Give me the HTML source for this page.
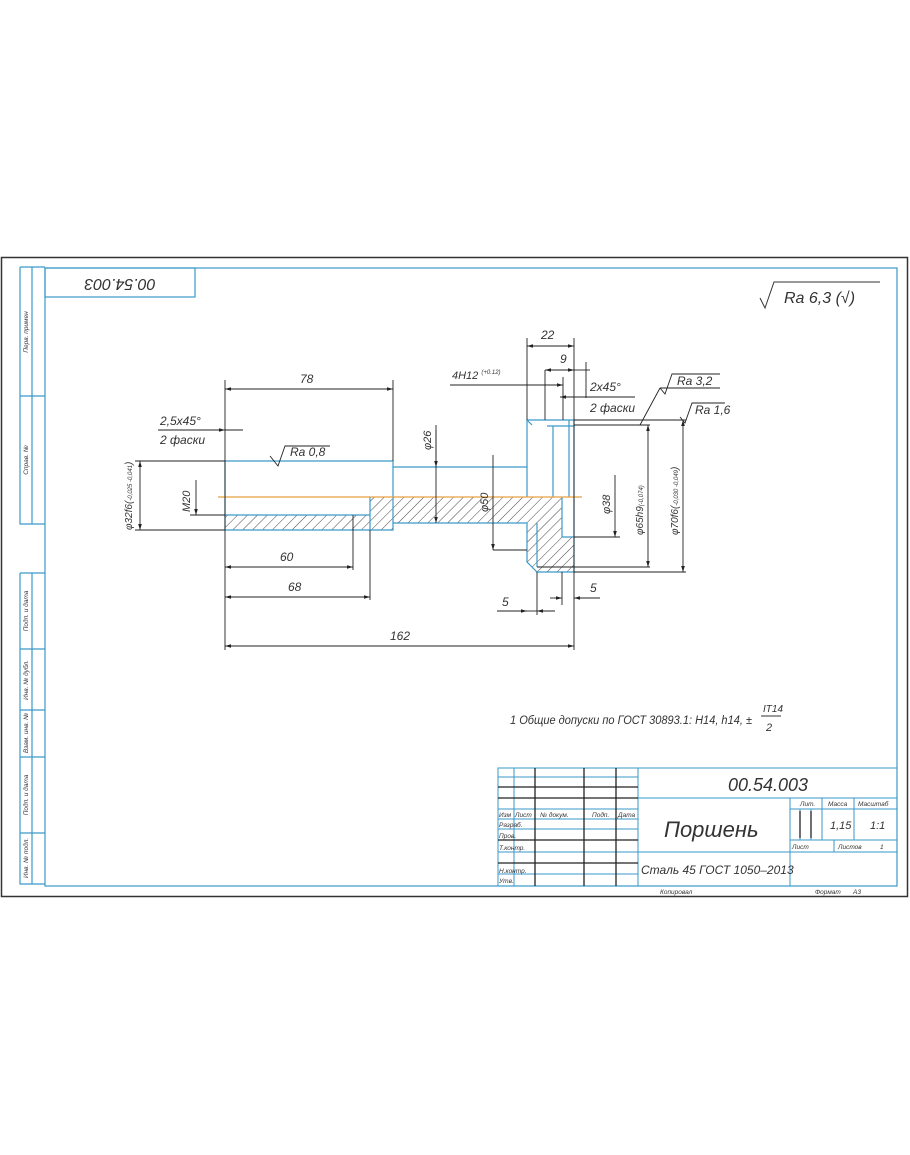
<!DOCTYPE html>
<html><head><meta charset="utf-8"><style>
html,body{margin:0;padding:0;background:#fff;}
svg{display:block}
text{font-family:"Liberation Sans","DejaVu Sans",sans-serif;font-style:italic;fill:#333;}
</style></head><body>
<svg width="910" height="1155" viewBox="0 0 910 1155" xmlns="http://www.w3.org/2000/svg">
<defs>
<marker id="a" viewBox="0 0 10 6" refX="10" refY="3" markerWidth="8" markerHeight="4" orient="auto-start-reverse"><path d="M0,0L10,3L0,6z" fill="#222"/></marker>
<pattern id="h" width="7" height="7" patternUnits="userSpaceOnUse" patternTransform="rotate(45)"><line x1="0" y1="0" x2="0" y2="7" stroke="#333" stroke-width="0.9"/></pattern>
</defs>
<rect x="1.5" y="257.5" width="906" height="639" fill="none" stroke="#333" stroke-width="1.5"/>
<g stroke="#3a9ac9" fill="none" stroke-width="1.2">
<rect x="45" y="268" width="852" height="618"/>
<rect x="45" y="268" width="150" height="29"/>
<path d="M20,267V524H45M32,267V524M20,267H45M20,396H45"/>
<path d="M20,573V884H45M32,573V884M20,573H45M20,649H45M20,710H45M20,757H45M20,833H45"/>
</g>
<text transform="translate(120,283) rotate(180)" font-size="16" text-anchor="middle" dominant-baseline="middle">00.54.003</text>
<g font-size="6.5">
<text transform="translate(28,332) rotate(-90)" text-anchor="middle">Перв. примен</text>
<text transform="translate(28,460) rotate(-90)" text-anchor="middle">Справ. №</text>
<text transform="translate(28,611) rotate(-90)" text-anchor="middle">Подп. и дата</text>
<text transform="translate(28,680) rotate(-90)" text-anchor="middle">Инв. № дубл.</text>
<text transform="translate(28,733) rotate(-90)" text-anchor="middle">Взам. инв. №</text>
<text transform="translate(28,795) rotate(-90)" text-anchor="middle">Подп. и дата</text>
<text transform="translate(28,858) rotate(-90)" text-anchor="middle">Инв. № подл.</text>
</g>
<path d="M760,298l5,10l9,-26H880" stroke="#333" fill="none"/>
<text x="784" y="303" font-size="16">Ra 6,3 (√)</text>
<path d="M225,515H370V497H393V530H225Z M393,497H562V537H574V572H537L527,562V523H393Z" fill="url(#h)"/>
<g stroke="#3a9ac9" fill="none" stroke-width="1.2">
<path d="M225,461H393V467H527V420H574V572H537L527,562V523H393V530H225Z"/>
<path d="M225,515H370M393,467V523M370,497V530M527,467V497M553,426V497M569,420V497M547,426H574M537,523V567M562,497V537H574M527,420L532,425"/>
</g>
<line x1="218" y1="497" x2="582" y2="497" stroke="#e8a040" stroke-width="1.2"/>
<g stroke="#222" stroke-width="0.9" fill="none">
<path d="M225,380V650M393,380V461M370,530V600M353,515V570M574,338V650M527,338V420M545,370V420M586,362V398M563,377V420"/>
<path d="M225,389H393" marker-start="url(#a)" marker-end="url(#a)"/>
<path d="M225,567H353" marker-start="url(#a)" marker-end="url(#a)"/>
<path d="M225,597H370" marker-start="url(#a)" marker-end="url(#a)"/>
<path d="M225,646H574" marker-start="url(#a)" marker-end="url(#a)"/>
<path d="M527,346H574" marker-start="url(#a)" marker-end="url(#a)"/>
<path d="M545,370H574" marker-start="url(#a)" marker-end="url(#a)"/><path d="M574,370H590"/>
<path d="M450,385H563" marker-end="url(#a)"/>
<path d="M560,397H635"/><path d="M586,397H560" marker-end="url(#a)"/>
<path d="M158,430H243"/><path d="M200,430H225" marker-end="url(#a)"/>
<path d="M135,461H225M135,530H225"/>
<path d="M140,461V530" marker-start="url(#a)" marker-end="url(#a)"/>
<path d="M196,480V515" marker-end="url(#a)"/><path d="M190,515H225"/>
<path d="M436,425V523" marker-end="url(#a)"/><path d="M436,430V467" marker-end="url(#a)"/>
<path d="M493,455V550" marker-end="url(#a)"/><path d="M493,550H527"/>
<path d="M615,475V537" marker-end="url(#a)"/><path d="M574,537H620"/>
<path d="M574,425H650M537,567H650M574,420H686M574,572H686"/>
<path d="M648,425V567" marker-start="url(#a)" marker-end="url(#a)"/>
<path d="M683,420V572" marker-start="url(#a)" marker-end="url(#a)"/>
<path d="M537,572V615M562,572V605"/>
<path d="M497,611H527" marker-end="url(#a)"/><path d="M537,611H555" marker-start="url(#a)"/><path d="M527,611H537"/>
<path d="M550,598H562" marker-end="url(#a)"/><path d="M574,598H600" marker-start="url(#a)"/>
<path d="M270,456l8,10l7,-20H330"/>
<path d="M660,388l5,6l7,-20H720M660,388H720M660,388L640,425" />
<path d="M680,417l5,6l7,-20H725"/>
</g>
<g font-size="12">
<text x="300" y="383">78</text>
<text x="280" y="561">60</text>
<text x="288" y="591">68</text>
<text x="390" y="640">162</text>
<text x="541" y="339">22</text>
<text x="560" y="363">9</text>
<text x="452" y="379" font-size="11">4H12 <tspan font-size="6" dy="-5">(+0.12)</tspan></text>
<text x="590" y="391">2x45°</text>
<text x="590" y="412">2 фаски</text>
<text x="160" y="425">2,5x45°</text>
<text x="160" y="444">2 фаски</text>
<text x="290" y="456">Ra 0,8</text>
<text x="677" y="385">Ra 3,2</text>
<text x="695" y="414">Ra 1,6</text>
<text x="502" y="606">5</text>
<text x="590" y="592">5</text>
<text transform="translate(132,530) rotate(-90)" font-size="10">φ32f6(<tspan font-size="6">-0,025 -0,041</tspan>)</text>
<text transform="translate(190,512) rotate(-90)" font-size="11">M20</text>
<text transform="translate(431,450) rotate(-90)" font-size="11">φ26</text>
<text transform="translate(488,512) rotate(-90)" font-size="11">φ50</text>
<text transform="translate(610,514) rotate(-90)" font-size="11">φ38</text>
<text transform="translate(643,535) rotate(-90)" font-size="10">φ65h9<tspan font-size="6">(-0,074)</tspan></text>
<text transform="translate(678,535) rotate(-90)" font-size="10">φ70f6(<tspan font-size="6">-0,030 -0,049</tspan>)</text>
<text x="510" y="724" font-size="11.5" textLength="242" lengthAdjust="spacingAndGlyphs">1 Общие допуски по ГОСТ 30893.1: H14, h14, ±</text>
<text x="763" y="712" font-size="10">IT14</text>
<line x1="761" y1="716" x2="781" y2="716" stroke="#333"/>
<text x="766" y="731" font-size="11">2</text>
</g>
<g stroke="#3a9ac9" fill="none" stroke-width="1">
<rect x="498" y="768" width="399" height="118"/>
<path d="M514,768V886M535,768V886M584,768V886M616,768V886M638,768V886"/>
<path d="M498,777H638M498,787H638M498,798H897M498,809H638M498,819H638M498,829H638M498,840H638M498,852H790M498,863H638M498,874H638"/>
<path d="M790,798V886M822,798V840M854,798V840M790,809H897M790,840H897M790,852H897M800,809V840M811,809V840M834,840V852"/>
</g>
<g stroke="#222" stroke-width="1.3"><path d="M498,787H638M498,798H638M498,840H638M498,863H638M535,768V886M584,768V886M616,768V886M800,811V838M811,811V838"/></g>
<text x="768" y="791" font-size="18" text-anchor="middle">00.54.003</text>
<text x="664" y="837" font-size="22">Поршень</text>
<text x="641" y="874" font-size="12">Сталь 45 ГОСТ 1050–2013</text>
<g font-size="6.5">
<text x="499" y="817">Изм</text><text x="515" y="817">Лист</text><text x="540" y="817">№ докум.</text><text x="592" y="817">Подп.</text><text x="618" y="817">Дата</text>
<text x="499" y="827">Разраб.</text><text x="499" y="838">Пров.</text><text x="499" y="850">Т.контр.</text>
<text x="499" y="873">Н.контр.</text><text x="499" y="883">Утв.</text>
<text x="800" y="806">Лит.</text><text x="828" y="806">Масса</text><text x="858" y="806">Масштаб</text>
<text x="792" y="849">Лист</text><text x="838" y="849">Листов</text><text x="880" y="849">1</text>
<text x="660" y="894">Копировал</text><text x="815" y="894">Формат</text><text x="853" y="894">А3</text>
</g>
<text x="830" y="829" font-size="11">1,15</text>
<text x="870" y="829" font-size="11">1:1</text>
</svg>
</body></html>
